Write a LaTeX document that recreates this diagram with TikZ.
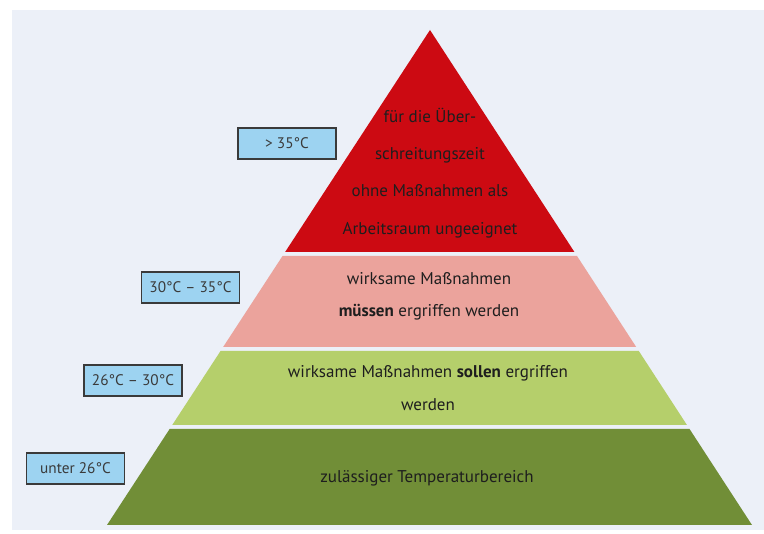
\documentclass[tikz,border=0pt]{standalone}
\usepackage{fontspec}
\setmainfont{PT Sans}
\usetikzlibrary{calc}
\definecolor{bgc}{HTML}{ECF0F8}
\definecolor{redc}{HTML}{CC0A12}
\definecolor{pinkc}{HTML}{EBA39C}
\definecolor{lgreen}{HTML}{B5CF6B}
\definecolor{dgreen}{HTML}{718E37}
\definecolor{boxc}{HTML}{9DD3F1}
\definecolor{boxline}{HTML}{3A3A3A}
\definecolor{txt}{HTML}{1E1E1E}
\tikzset{
  lbl/.style={draw=boxline, fill=boxc, line width=1.2pt, minimum width=98pt,
    minimum height=31pt, inner sep=0pt, text=boxline, font=\fontsize{15.3}{17}\selectfont},
  layertxt/.style={align=center, text=txt, inner sep=0pt},
}
\newcommand{\pyrlayer}[3]{%
  \pgfmathsetmacro{\ta}{(#1-30)/495}%
  \pgfmathsetmacro{\tb}{(#2-30)/495}%
  \fill[#3] ($(A)!\ta!(BL)$) -- ($(A)!\ta!(BR)$) -- ($(A)!\tb!(BR)$) -- ($(A)!\tb!(BL)$) -- cycle;%
}
\begin{document}
\begin{tikzpicture}[x=1pt,y=-1pt]
\useasboundingbox (0,0) rectangle (764,534);
\fill[white] (0,0) rectangle (764,534);
\fill[bgc] (12,10) rectangle (764,530);
\coordinate (A) at (430,30);
\coordinate (BL) at (107,525);
\coordinate (BR) at (752,525);
% layers
\fill[redc] (A) -- ($(A)!{222/495}!(BR)$) -- ($(A)!{222/495}!(BL)$) -- cycle;
\pyrlayer{256}{347}{pinkc}
\pyrlayer{351}{425}{lgreen}
\pyrlayer{429}{525}{dgreen}
% texts
\node[layertxt, font=\fontsize{17}{37.3}\selectfont] (t1) at (430,173)
  {für die Über-\\schreitungszeit\\ohne Maßnahmen als\\Arbeitsraum ungeeignet};
\node[layertxt, font=\fontsize{17}{32}\selectfont] (t2) at (429,296)
  {wirksame Maßnahmen\\\textbf{müssen} ergriffen werden};
\node[layertxt, font=\fontsize{17}{33}\selectfont] (t3) at (428,388.5)
  {wirksame Maßnahmen \textbf{sollen} ergriffen\\werden};
\node[layertxt, font=\fontsize{17}{20}\selectfont] (t4) at (427,478)
  {zulässiger Temperaturbereich};
% labels
\node[lbl] (l1) at (287,143.5) {> 35°C};
\node[lbl] (l2) at (190.5,287.5) {30°C – 35°C};
\node[lbl] (l3) at (133,380.5) {26°C – 30°C};
\node[lbl] (l4) at (75.5,468.5) {unter 26°C};
\end{tikzpicture}
\end{document}
